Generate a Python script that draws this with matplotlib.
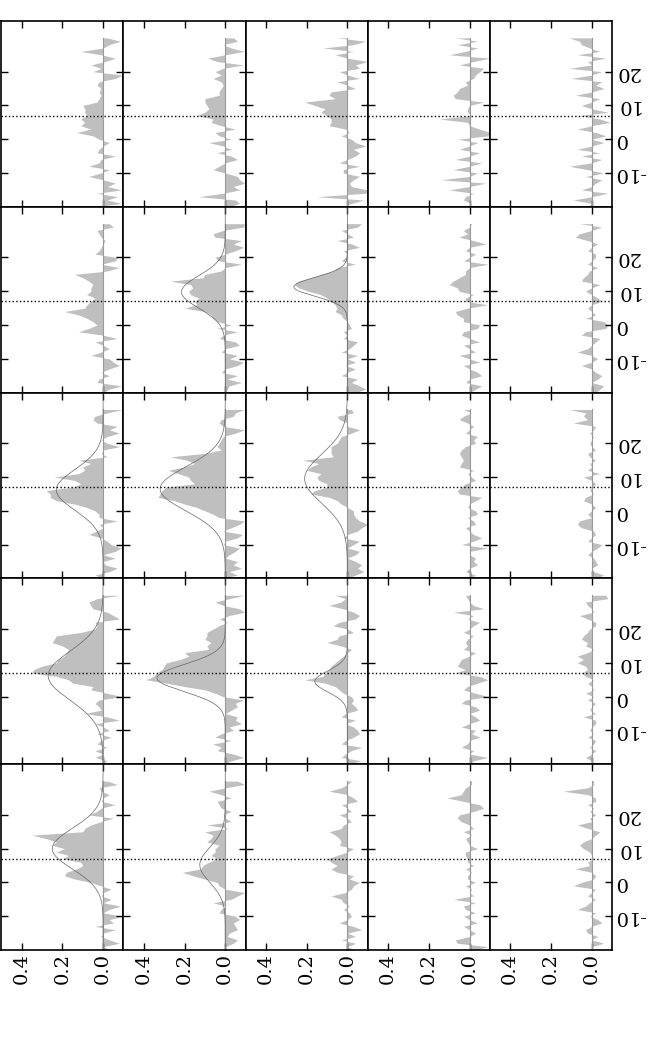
import numpy as np
import matplotlib.pyplot as plt

plt.rcParams['font.family'] = ['DejaVu Serif']
plt.rcParams['font.size'] = 14

# positions of the profile samples, top (30) to bottom (-20)
pos = np.arange(30, -21, -1)

# profile values, one list per panel (row, column), read top to bottom
r0c0 = [-0.02, -0.085, -0.03, 0.0, 0.11, 0.01, -0.06, -0.01, 0.06, 0.01, 0.05, -0.095, -0.06, 0.02, 0.03, 0.01, 0.02,
        0.01, 0.02, 0.03, 0.1, 0.09, 0.09, 0.08, 0.11, 0.09, 0.11, 0.06, 0.13, 0.05, 0.02, -0.03, 0.0, 0.02, 0.03,
        -0.06, 0.01, 0.02, 0.07, -0.03, 0.01, 0.07, 0.0, -0.06, -0.02, -0.09, 0.03, -0.07, -0.02, -0.09, 0.04]
r0c1 = [-0.04, -0.06, 0.01, -0.03, -0.095, 0.0, 0.085, 0.04, -0.09, 0.01, 0.05, 0.02, 0.06, 0.02, 0.01, 0.02, 0.03,
        0.03, 0.1, 0.1, 0.09, 0.08, 0.1, 0.14, 0.06, 0.07, 0.02, -0.05, 0.05, 0.03, -0.03, 0.08, 0.01, -0.03, 0.04,
        -0.03, -0.06, 0.0, 0.03, 0.06, 0.0, -0.06, -0.07, -0.095, -0.04, -0.07, 0.01, 0.13, -0.05, -0.07, -0.02]
r0c2 = [0.05, -0.09, -0.03, 0.12, -0.03, 0.06, 0.0, -0.1, -0.04, -0.06, 0.04, 0.0, -0.06, 0.05, 0.0, -0.04, 0.08,
        0.09, 0.06, 0.21, 0.16, 0.11, 0.13, 0.1, 0.08, 0.08, 0.09, 0.01, -0.01, 0.03, -0.02, -0.04, -0.09, -0.03,
        -0.06, -0.04, 0.0, 0.04, -0.06, 0.02, 0.02, -0.06, -0.03, -0.01, -0.02, -0.1, -0.09, 0.15, -0.08, -0.02, 0.02]
r0c3 = [0.07, -0.04, 0.06, -0.04, 0.02, 0.1, -0.1, -0.02, 0.05, -0.07, -0.05, -0.03, -0.02, 0.02, 0.01, 0.05, 0.06,
        0.08, 0.07, -0.07, 0.0, 0.01, 0.01, -0.01, 0.15, 0.01, 0.0, -0.05, -0.1, -0.09, 0.06, -0.04, 0.0, 0.05,
        -0.05, 0.0, 0.07, -0.06, 0.0, 0.08, -0.04, 0.0, 0.14, -0.08, 0.0, 0.1, -0.02, 0.02, 0.03, -0.01, 0.01]
r0c4 = [0.11, 0.06, 0.05, 0.01, -0.04, 0.07, -0.07, 0.02, 0.0, 0.11, -0.05, 0.0, 0.1, -0.05, -0.02, -0.06, 0.0,
        0.08, -0.04, 0.0, 0.05, 0.0, -0.08, 0.06, -0.04, -0.09, 0.0, 0.07, -0.02, -0.07, 0.0, -0.06, 0.0, 0.07,
        -0.04, 0.05, -0.05, 0.0, 0.11, 0.02, -0.06, 0.03, -0.05, -0.02, 0.0, 0.05, -0.08, 0.0, 0.09, 0.0, 0.02]

r1c0 = [-0.03, -0.05, 0.03, 0.02, 0.01, -0.01, 0.0, 0.01, 0.02, 0.04, -0.07, -0.06, 0.01, -0.08, -0.02, 0.14, 0.1,
        0.07, 0.05, 0.06, 0.06, 0.08, 0.04, 0.06, 0.08, 0.09, 0.19, 0.12, 0.08, 0.05, 0.03, 0.07, 0.12, 0.0, -0.07,
        0.04, 0.0, -0.03, 0.01, 0.06, -0.03, -0.05, -0.08, -0.03, 0.01, -0.03, 0.02, 0.03, -0.09, -0.03, 0.0]
r1c1 = [-0.095, -0.09, 0.01, 0.06, 0.05, -0.08, -0.04, -0.09, -0.05, 0.0, 0.05, 0.03, -0.08, 0.0, 0.02, 0.1, 0.11,
        0.27, 0.17, 0.16, 0.18, 0.17, 0.13, 0.15, 0.14, 0.2, 0.1, 0.07, 0.06, 0.04, -0.03, 0.04, -0.06, 0.01, 0.03,
        -0.05, -0.07, 0.0, 0.02, -0.06, -0.02, -0.09, -0.06, 0.0, 0.02, -0.06, -0.01, -0.08, -0.02, -0.01, 0.0]
r1c2 = [-0.07, -0.05, 0.03, 0.0, -0.03, 0.05, -0.02, -0.06, 0.02, 0.0, 0.01, 0.03, -0.04, 0.05, 0.07, 0.13, 0.18,
        0.24, 0.26, 0.24, 0.19, 0.13, 0.1, 0.08, 0.06, 0.05, 0.06, 0.03, 0.02, 0.0, -0.01, -0.02, 0.02, 0.0, 0.02,
        -0.05, -0.03, -0.01, 0.03, -0.05, 0.0, -0.04, 0.01, -0.04, 0.0, 0.03, -0.05, -0.02, -0.06, -0.09, -0.04]
r1c3 = [-0.01, 0.0, 0.03, 0.01, 0.05, -0.02, -0.08, 0.0, 0.02, -0.03, 0.0, 0.03, -0.09, 0.0, 0.02, 0.02, 0.05,
        0.08, 0.1, 0.06, 0.05, -0.02, 0.02, 0.02, -0.09, 0.01, 0.07, 0.06, 0.03, 0.03, -0.05, -0.04, 0.03, 0.04,
        0.0, -0.05, 0.03, 0.0, -0.03, 0.05, 0.0, -0.05, 0.03, 0.0, -0.04, -0.06, 0.0, 0.02, -0.06, -0.03, 0.0]
r1c4 = [0.06, -0.05, 0.0, 0.06, 0.08, 0.02, -0.03, 0.0, 0.02, -0.02, -0.02, 0.0, 0.02, -0.03, 0.01, 0.02, 0.04,
        0.05, -0.04, 0.0, 0.03, 0.0, -0.03, -0.05, 0.0, 0.02, 0.0, -0.02, 0.03, -0.06, -0.08, -0.07, 0.03, 0.05,
        -0.04, -0.02, 0.0, 0.02, 0.07, 0.0, -0.03, 0.0, 0.05, 0.0, -0.02, -0.05, -0.03, 0.0, -0.06, -0.04, -0.02]

r2c0 = [-0.095, -0.02, 0.04, 0.05, 0.03, -0.07, -0.03, -0.08, -0.02, 0.01, -0.02, -0.08, 0.0, 0.01, -0.02, 0.12,
        0.06, 0.1, 0.09, 0.12, 0.24, 0.14, 0.11, 0.15, 0.28, 0.26, 0.26, 0.23, 0.14, 0.08, 0.04, 0.02, 0.02, -0.07,
        0.02, 0.0, 0.03, 0.07, 0.01, -0.02, -0.04, -0.09, -0.06, 0.0, -0.06, 0.0, -0.01, -0.07, -0.03, 0.04, 0.0]
r2c1 = [-0.095, -0.05, -0.04, 0.02, 0.03, 0.01, -0.095, -0.05, 0.01, 0.02, 0.03, 0.04, 0.02, 0.1, 0.27, 0.19, 0.15,
        0.2, 0.28, 0.23, 0.18, 0.17, 0.15, 0.29, 0.31, 0.32, 0.33, 0.25, 0.2, 0.14, 0.1, 0.06, 0.03, -0.095, -0.07,
        -0.03, 0.01, -0.085, -0.06, 0.0, 0.01, -0.07, -0.05, -0.02, 0.0, -0.06, -0.04, -0.08, -0.02, -0.06, 0.02]
r2c2 = [-0.02, -0.03, 0.05, 0.04, 0.0, 0.0, -0.06, -0.02, 0.03, 0.04, 0.05, 0.08, 0.08, 0.08, 0.07, 0.22, 0.14,
        0.18, 0.2, 0.13, 0.15, 0.14, 0.1, 0.1, 0.16, 0.18, 0.09, 0.05, 0.03, 0.0, -0.03, -0.03, -0.04, -0.06, -0.1,
        -0.07, -0.05, 0.0, 0.02, -0.06, -0.03, 0.0, -0.06, -0.04, 0.0, -0.04, -0.07, -0.05, -0.08, -0.04, 0.0]
r2c3 = [0.03, -0.01, 0.03, 0.05, 0.01, -0.02, 0.0, 0.02, -0.04, -0.02, -0.03, 0.02, 0.04, 0.05, 0.04, 0.03, 0.04,
        0.05, -0.02, 0.01, -0.01, -0.03, 0.02, 0.04, 0.06, 0.05, -0.06, -0.03, 0.0, 0.01, -0.03, -0.04, 0.01, -0.02,
        -0.03, 0.02, 0.0, -0.02, -0.06, -0.02, 0.04, -0.09, 0.0, 0.0, -0.03, -0.02, -0.04, 0.0, 0.02, -0.03, 0.0]
r2c4 = [0.11, 0.03, 0.04, 0.02, 0.09, -0.02, -0.01, 0.01, -0.01, 0.0, 0.01, 0.0, -0.02, 0.02, 0.01, -0.02, 0.01,
        0.0, 0.02, -0.04, 0.04, 0.0, -0.02, 0.0, 0.01, -0.01, 0.03, 0.04, 0.0, -0.02, 0.0, 0.02, 0.0, 0.06, 0.07,
        0.05, -0.01, -0.02, 0.0, 0.02, -0.05, -0.03, 0.0, 0.02, -0.01, -0.02, -0.03, 0.0, -0.01, -0.06, -0.02]

r3c0 = [-0.08, 0.03, 0.07, 0.06, 0.05, -0.02, -0.05, -0.08, 0.04, 0.03, 0.04, 0.11, 0.23, 0.24, 0.25, 0.2, 0.17,
        0.18, 0.19, 0.22, 0.23, 0.3, 0.34, 0.35, 0.23, 0.17, 0.15, 0.05, 0.06, -0.02, -0.09, 0.02, 0.04, 0.02, 0.01,
        0.09, -0.02, -0.08, 0.04, 0.0, -0.03, 0.03, -0.04, 0.01, 0.03, -0.02, 0.04, 0.0, 0.04, -0.02, 0.01]
r3c1 = [-0.095, -0.02, 0.05, 0.01, -0.07, -0.095, -0.02, 0.03, -0.01, 0.03, 0.06, 0.09, 0.09, 0.1, 0.07, 0.09,
        0.08, 0.2, 0.18, 0.22, 0.29, 0.3, 0.31, 0.34, 0.35, 0.39, 0.29, 0.2, 0.1, 0.05, 0.01, -0.09, -0.05, -0.06,
        -0.03, 0.0, -0.06, -0.05, -0.08, -0.02, -0.04, 0.02, 0.05, -0.03, 0.06, 0.02, 0.04, -0.04, -0.09, -0.03, 0.01]
r3c2 = [0.06, 0.01, 0.03, 0.09, 0.02, -0.03, -0.06, -0.04, 0.04, 0.07, 0.0, -0.03, 0.04, 0.05, 0.1, 0.03, -0.02,
        0.0, 0.02, 0.04, 0.06, 0.08, 0.09, 0.11, 0.12, 0.21, 0.11, 0.06, 0.04, 0.02, -0.02, -0.03, -0.02, -0.04,
        -0.05, 0.01, 0.03, -0.04, 0.01, -0.03, -0.05, -0.06, -0.03, 0.01, 0.03, -0.07, -0.02, 0.01, 0.03, -0.07, 0.0]
r3c3 = [0.02, 0.01, 0.0, -0.02, -0.07, 0.08, -0.02, 0.01, -0.05, -0.02, 0.0, 0.03, -0.02, 0.01, 0.02, 0.01, 0.03,
        -0.03, 0.0, 0.04, 0.05, 0.06, 0.02, 0.07, -0.05, -0.09, -0.04, 0.01, 0.03, -0.03, -0.09, 0.02, 0.04, -0.03,
        -0.05, 0.0, -0.03, -0.05, 0.0, 0.04, -0.03, -0.01, -0.05, 0.0, 0.01, 0.04, -0.02, 0.0, -0.09, -0.02, 0.0]
r3c4 = [-0.07, -0.08, 0.03, 0.02, 0.0, -0.01, 0.06, 0.02, -0.02, -0.02, 0.01, 0.02, 0.04, 0.05, 0.02, 0.03, -0.01,
        0.02, 0.07, 0.04, 0.07, 0.03, 0.02, 0.05, 0.03, -0.01, 0.02, 0.0, -0.01, 0.03, -0.01, 0.02, -0.02, 0.0,
        0.01, -0.02, 0.04, -0.02, -0.02, 0.0, 0.01, -0.01, 0.02, -0.02, -0.01, 0.01, -0.02, 0.0, 0.03, 0.0, 0.01]

r4c0 = [-0.02, -0.07, 0.02, 0.01, -0.03, 0.0, 0.01, -0.06, 0.01, 0.03, 0.07, -0.05, 0.01, 0.06, 0.09, 0.1, 0.35,
        0.28, 0.23, 0.25, 0.19, 0.23, 0.17, 0.2, 0.11, 0.1, 0.13, 0.18, 0.19, 0.14, 0.06, 0.01, -0.04, 0.0, 0.01,
        -0.04, 0.0, -0.085, -0.03, 0.0, -0.095, -0.03, -0.05, 0.04, -0.06, 0.0, 0.01, -0.03, -0.08, 0.0, -0.04]
r4c1 = [-0.06, -0.095, 0.0, 0.08, 0.02, -0.03, 0.04, 0.03, 0.02, -0.03, 0.01, 0.0, -0.03, 0.09, -0.02, 0.1, 0.06,
        0.07, 0.09, 0.03, 0.05, 0.05, 0.07, 0.04, 0.08, 0.11, 0.12, 0.21, 0.16, 0.1, 0.04, 0.03, 0.0, -0.095, -0.06,
        -0.03, 0.06, 0.0, 0.02, 0.03, -0.05, -0.07, -0.04, -0.05, -0.06, -0.02, -0.01, -0.06, -0.04, 0.0, -0.01]
r4c2 = [-0.02, 0.0, 0.03, 0.09, 0.0, -0.03, -0.05, 0.03, 0.0, -0.02, 0.04, 0.0, -0.02, 0.02, 0.03, 0.09, 0.06,
        0.04, 0.03, 0.04, -0.03, 0.0, 0.05, 0.1, 0.08, 0.05, 0.08, 0.05, -0.03, -0.01, -0.06, -0.03, -0.02, 0.01,
        0.08, 0.03, 0.02, -0.01, 0.02, -0.01, -0.02, 0.0, 0.04, -0.03, -0.07, 0.0, -0.04, 0.03, -0.04, 0.0, -0.04]
r4c3 = [-0.01, -0.01, 0.02, 0.03, 0.04, 0.11, 0.03, -0.05, -0.07, -0.02, 0.05, 0.06, 0.04, 0.0, -0.02, 0.03, -0.01,
        0.02, 0.01, 0.0, -0.04, 0.02, 0.02, 0.01, 0.01, -0.02, 0.02, -0.01, 0.01, 0.01, -0.03, 0.02, -0.01, 0.0,
        -0.02, 0.08, -0.03, 0.03, 0.02, -0.03, 0.03, 0.0, -0.04, 0.03, 0.0, -0.03, 0.0, 0.07, 0.06, -0.09, -0.03]
r4c4 = [-0.01, -0.01, 0.02, 0.14, 0.02, -0.02, -0.02, 0.02, -0.01, 0.01, -0.02, 0.01, 0.0, 0.07, 0.02, -0.04, -0.02,
        0.0, 0.04, 0.06, 0.04, 0.01, 0.0, -0.01, 0.02, 0.01, 0.08, 0.0, -0.02, -0.01, 0.05, 0.09, -0.02, 0.0, 0.02,
        -0.02, 0.01, 0.03, 0.07, -0.02, 0.01, -0.03, -0.05, 0.0, 0.03, 0.02, -0.03, 0.0, -0.06, 0.0, 0.0]

profiles = [[r0c0, r0c1, r0c2, r0c3, r0c4],
            [r1c0, r1c1, r1c2, r1c3, r1c4],
            [r2c0, r2c1, r2c2, r2c3, r2c4],
            [r3c0, r3c1, r3c2, r3c3, r3c4],
            [r4c0, r4c1, r4c2, r4c3, r4c4]]

# gaussian fits drawn on some panels: (row, col), amplitude, centre, width
fit_panels = [(1, 1), (1, 2), (2, 0), (2, 1), (2, 2), (3, 0), (3, 1), (3, 2), (4, 0), (4, 1)]
fit_amp = [0.215, 0.263, 0.23, 0.32, 0.21, 0.27, 0.335, 0.16, 0.25, 0.125]
fit_center = [9.8, 11.3, 6.2, 6.5, 9.5, 6.2, 5.5, 4.5, 10.0, 5.2]
fit_width = [4.8, 2.8, 6.0, 6.5, 7.2, 7.2, 4.0, 3.1, 6.0, 5.2]

marker_pos = 7
value_ticks = [0.4, 0.2, 0.0]
value_labels = ['0.4', '0.2', '0.0']
pos_ticks = [-10, 0, 10, 20]
pos_labels = ['-10', '0', '10', '20']

fig, axes = plt.subplots(5, 5, figsize=(6.67, 10.6), dpi=100)
fig.subplots_adjust(left=0.002, right=612 / 667, top=1 - 21 / 1060, bottom=1 - 950 / 1060,
                    wspace=0, hspace=0)

yy = np.linspace(-20, 35, 400)
for i in range(5):
    for j in range(5):
        ax = axes[i, j]
        ax.fill_betweenx(pos, 0, profiles[i][j], color='0.75', lw=0)
        ax.plot(np.zeros(len(pos)), pos, color='0.6', lw=0.8)
        if (i, j) in fit_panels:
            k = fit_panels.index((i, j))
            g = fit_amp[k] * np.exp(-(yy - fit_center[k]) ** 2 / (2 * fit_width[k] ** 2))
            ax.plot(g, yy, color='0.4', lw=0.5)
        ax.axhline(marker_pos, color='k', ls=':', lw=1.0)
        ax.set_xlim(0.5, -0.1)
        ax.set_ylim(-20, 35)
        ax.set_xticks(value_ticks)
        ax.set_yticks(pos_ticks)
        ax.tick_params(direction='in', length=5, width=1, top=True, bottom=True, left=True, right=True,
                       labelleft=False, labelbottom=(i == 4), labelright=(j == 4), pad=2)
        if i == 4:
            ax.set_xticklabels(value_labels, rotation=90)
        if j == 4:
            ax.set_yticklabels(pos_labels, rotation=180, va='center')
        for s in ax.spines.values():
            s.set_linewidth(1.2)

plt.savefig('out.png', dpi=100)
